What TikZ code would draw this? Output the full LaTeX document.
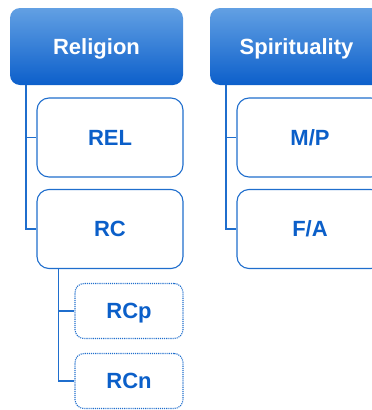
\documentclass[tikz,border=0pt]{standalone}
\usepackage{fontspec}
\setmainfont{Liberation Sans}
\definecolor{hdtop}{HTML}{62A0E3}
\definecolor{hdbot}{HTML}{0C5FCB}
\definecolor{edge}{HTML}{1F6ECD}
\definecolor{txt}{HTML}{0B5FC9}
\tikzset{
  header/.style={rounded corners=10pt, top color=hdtop, bottom color=hdbot,
    minimum width=173pt, minimum height=77pt, text=white,
    text height=15.7pt, text depth=0pt,
    font=\fontsize{22}{26}\selectfont\bfseries},
  item/.style={draw=edge, line width=1.1pt, fill=white, rounded corners=12pt,
    minimum width=146pt, minimum height=79pt, text=txt,
    text height=15.7pt, text depth=0pt,
    font=\fontsize{22}{26}\selectfont\bfseries},
  subitem/.style={item, densely dotted, rounded corners=9pt,
    minimum width=108pt, minimum height=55pt},
  conn/.style={draw=edge, line width=1.8pt}
}
\begin{document}
\begin{tikzpicture}[x=1pt,y=-1pt]
        \useasboundingbox (0,0) rectangle (372,410);

        % religion column
        \node[header] (religion) at (96.5,46.5) {Religion};
        \node[item] (rel) at (110,137.5) {REL};
        \node[item] (rc) at (110,229) {RC};
        \node[subitem] (rcp) at (129,311) {RCp};
        \node[subitem] (rcn) at (129,381) {RCn};

        % spirituality column
        \node[header] (spirit) at (296.5,46.5) {Spirituality};
        \node[item] (mp) at (310,137.5) {M/P};
        \node[item] (fa) at (310,229) {F/A};

        \draw[conn] ([xshift=16pt]religion.south west) |- (rel.west);
        \draw[conn] ([xshift=16pt]religion.south west) |- (rc.west);
        \draw[conn] ([xshift=22pt]rc.south west) |- (rcp.west);
        \draw[conn] ([xshift=22pt]rc.south west) |- (rcn.west);
        \draw[conn] ([xshift=16pt]spirit.south west) |- (mp.west);
        \draw[conn] ([xshift=16pt]spirit.south west) |- (fa.west);
\end{tikzpicture}
\end{document}
